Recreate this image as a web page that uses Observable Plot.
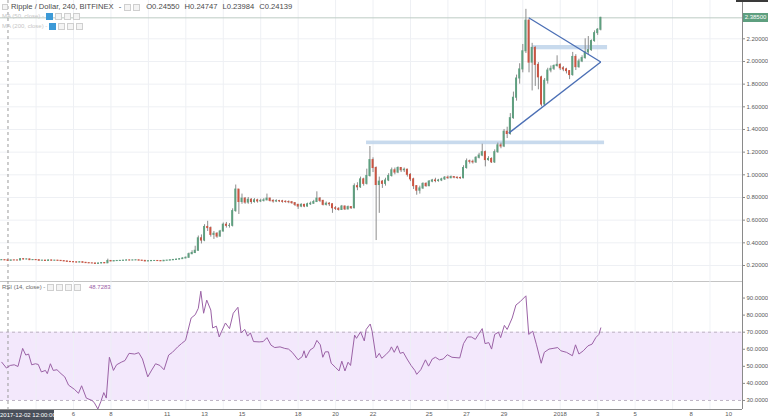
<!DOCTYPE html>
<html><head><meta charset="utf-8">
<script src="https://cdn.jsdelivr.net/npm/d3@7"></script>
<script src="https://cdn.jsdelivr.net/npm/@observablehq/plot@0.6"></script>
<style>
body{margin:0;background:#fff;}
#wrap{position:relative;width:768px;height:420px;overflow:hidden;font-family:"Liberation Sans",Arial,sans-serif;background:#fff;}
#top,#rsi{position:absolute;left:0;}
#top{top:0;} #rsi{top:281px;}
.ov{position:absolute;white-space:nowrap;line-height:1;}
.ic{display:inline-block;width:5px;height:5px;border:1px solid #cfcfcf;background:#f4f4f4;margin-right:2px;vertical-align:middle;}
.ic.b{background:#3d9ad7;border-color:#3d9ad7;}
</style></head>
<body><div id="wrap"><div id="top"></div><div id="rsi"></div></div>
<script>
// ---------- data (4h candles, first bar 2017-12-02 04:00 UTC) ----------
const firstOpen = 0.2460;
const closes = [
0.2470,0.2455,0.2414,0.2450,0.2445,0.2440,0.2560,0.2530,0.2540,0.2470,
0.2480,0.2470,0.2420,0.2430,0.2400,0.2450,0.2420,0.2430,0.2410,0.2390,
0.2360,0.2320,0.2300,0.2280,0.2260,0.2290,0.2240,0.2210,0.2190,0.2180,
0.2140,0.2180,0.2220,0.2190,0.2400,0.2360,0.2390,0.2400,0.2410,0.2430,
0.2450,0.2440,0.2450,0.2460,0.2430,0.2410,0.2360,0.2380,0.2400,0.2400,
0.2390,0.2370,0.2420,0.2430,0.2460,0.2490,0.2520,0.2560,0.2620,0.2680,
0.3000,0.3100,0.3300,0.4400,0.4200,0.5400,0.5300,0.4700,0.4800,0.4550,
0.5000,0.5600,0.5500,0.5500,0.6800,0.8700,0.7600,0.7900,0.7550,0.7800,
0.7600,0.7750,0.7650,0.7700,0.7750,0.7900,0.7700,0.7650,0.7680,0.7660,
0.7620,0.7600,0.7580,0.7500,0.7350,0.7200,0.7350,0.7200,0.7400,0.7450,
0.7600,0.7900,0.7700,0.7350,0.7450,0.7400,0.7050,0.7000,0.6900,0.7200,
0.6950,0.7150,0.7050,0.9000,0.8900,0.9600,0.9200,0.9900,1.1300,1.0600,
0.9100,0.9400,0.9200,0.9500,0.9900,1.0400,1.0200,1.0600,1.0400,1.0450,
1.0000,0.9600,0.9000,0.8600,0.8800,0.9200,0.9000,0.9400,0.9500,0.9450,
0.9500,0.9600,0.9750,0.9700,0.9800,0.9750,0.9720,0.9700,1.0600,1.1200,
1.1150,1.1100,1.1500,1.1700,1.2000,1.1300,1.1400,1.1100,1.2000,1.2600,
1.2500,1.3800,1.3600,1.5000,1.6800,1.8500,1.9300,2.0900,2.3600,1.9900,
2.1200,1.9700,1.8600,1.6200,1.8300,1.9200,1.9350,1.9600,1.9700,1.9400,
1.9300,1.9150,1.8800,2.0400,1.9500,2.0000,2.0300,2.0800,2.1000,2.1800,
2.2500,2.2800,2.3850];
const highs = [
0.2500,0.2490,0.2475,0.2470,0.2480,0.2470,0.2600,0.2590,0.2570,0.2550,
0.2510,0.2500,0.2480,0.2460,0.2450,0.2470,0.2460,0.2450,0.2440,0.2430,
0.2400,0.2370,0.2340,0.2320,0.2300,0.2310,0.2300,0.2260,0.2230,0.2210,
0.2200,0.2200,0.2240,0.2240,0.2560,0.2430,0.2420,0.2430,0.2440,0.2450,
0.2480,0.2470,0.2470,0.2490,0.2470,0.2450,0.2420,0.2400,0.2420,0.2430,
0.2420,0.2410,0.2440,0.2460,0.2490,0.2520,0.2550,0.2600,0.2680,0.2750,
0.3100,0.3300,0.3700,0.4600,0.4700,0.5600,0.5900,0.5400,0.5000,0.4900,
0.5100,0.5750,0.5800,0.5700,0.7000,0.9100,0.8700,0.8300,0.8000,0.8000,
0.7900,0.7900,0.7850,0.7850,0.7900,0.8300,0.7950,0.7800,0.7800,0.7750,
0.7750,0.7700,0.7700,0.7650,0.7550,0.7400,0.7450,0.7400,0.7500,0.7600,
0.7750,0.8500,0.8000,0.7750,0.7600,0.7550,0.7450,0.7200,0.7100,0.7300,
0.7250,0.7250,0.7200,0.9200,0.9300,0.9800,0.9700,1.0500,1.2500,1.1500,
1.0700,0.9800,0.9500,0.9700,1.0100,1.0600,1.0600,1.0700,1.0650,1.0600,
1.0500,1.0100,0.9700,0.9050,0.9000,0.9300,0.9300,0.9500,0.9600,0.9700,
0.9600,0.9700,0.9850,0.9900,0.9900,0.9850,0.9800,0.9800,1.0800,1.1400,
1.1300,1.1300,1.1600,1.1900,1.2700,1.2100,1.1600,1.1500,1.2200,1.2800,
1.2800,1.4000,1.4200,1.5400,1.7300,1.8800,1.9800,2.1500,2.4600,2.3700,
2.1600,2.1300,1.9900,1.8700,1.8500,1.9400,1.9600,1.9700,2.0500,1.9800,
1.9550,1.9400,1.9200,2.0800,2.0600,2.0200,2.0500,2.2000,2.2200,2.1900,
2.2700,2.2900,2.3900];
const lows = [
0.2440,0.2430,0.2398,0.2400,0.2420,0.2410,0.2430,0.2500,0.2500,0.2450,
0.2440,0.2440,0.2400,0.2400,0.2380,0.2390,0.2400,0.2400,0.2390,0.2370,
0.2340,0.2300,0.2280,0.2260,0.2230,0.2250,0.2220,0.2190,0.2170,0.2150,
0.2110,0.2120,0.2160,0.2170,0.2180,0.2330,0.2340,0.2370,0.2380,0.2390,
0.2410,0.2410,0.2420,0.2430,0.2410,0.2390,0.2340,0.2340,0.2360,0.2380,
0.2370,0.2350,0.2360,0.2400,0.2420,0.2450,0.2480,0.2510,0.2550,0.2600,
0.2650,0.2950,0.3050,0.3250,0.3900,0.4100,0.5000,0.4500,0.4300,0.4400,
0.4500,0.4950,0.5300,0.5300,0.5400,0.6700,0.6500,0.7400,0.7400,0.7400,
0.7400,0.7500,0.7500,0.7550,0.7600,0.7700,0.7600,0.7500,0.7550,0.7550,
0.7500,0.7500,0.7450,0.7400,0.7200,0.6950,0.7100,0.7100,0.7150,0.7300,
0.7400,0.7550,0.7550,0.7250,0.7250,0.7200,0.6600,0.6850,0.6800,0.6850,
0.6850,0.6900,0.6950,0.7000,0.8600,0.8800,0.9000,0.9100,0.9800,1.0200,
0.4200,0.6600,0.8800,0.9000,0.9400,0.9800,1.0000,1.0100,1.0200,1.0200,
0.9800,0.9400,0.8700,0.8200,0.8300,0.8700,0.8900,0.8950,0.9300,0.9300,
0.9350,0.9400,0.9500,0.9600,0.9650,0.9650,0.9600,0.9600,0.9650,1.0500,
1.0950,1.0950,1.1000,1.1400,1.1600,1.0700,1.1200,1.1000,1.1000,1.1900,
1.2300,1.2400,1.3200,1.3500,1.4900,1.6500,1.8000,1.9000,2.0700,1.9000,
1.7400,1.7800,1.7500,1.6000,1.6100,1.8000,1.9000,1.9200,1.9500,1.9200,
1.9100,1.8900,1.8400,1.8700,1.9200,1.9400,1.9900,2.0200,2.0600,2.0900,
2.1700,2.2300,2.2700];

// RSI(14, close): position in bars from the first bar, value
const rsiK = [0,1.5,2.7,4.0,5.2,6.7,7.7,8.6,9.6,10.8,11.7,12.7,14.0,14.6,15.6,16.5,17.7,19.0,20.2,21.4,
23.3,24.6,25.6,27.1,28.9,29.6,30.8,31.8,32.7,33.5,34.5,35.8,36.8,38.3,39.5,40.8,42.6,43.9,45.1,46.8,
47.9,49.3,50.7,52.0,53.5,54.7,56.4,57.6,58.9,60.7,62.0,63.0,63.8,64.7,65.7,67.0,67.6,68.8,69.7,70.5,
71.7,73.0,74.2,75.7,76.7,77.9,78.8,79.7,80.7,82.5,83.8,85.0,86.3,87.5,89.2,90.7,91.9,93.1,95.0,96.3,
96.9,97.5,98.8,100.0,101.0,102.1,102.9,103.7,104.7,105.6,106.9,108.1,109.0,110.0,111.0,111.8,113.1,113.7,115.0,116.2,
116.8,118.1,118.7,120.0,121.0,121.8,123.1,124.3,124.9,125.8,126.8,127.7,128.7,129.9,131.2,132.4,133.0,134.3,135.8,136.8,
138.0,139.0,140.3,141.5,142.8,144.3,146.8,148.0,149.3,150.5,151.8,152.8,154.0,154.9,156.1,157.0,158.0,159.2,159.9,161.1,
162.0,163.6,164.8,166.1,168.0,168.9,170.2,171.4,172.9,173.9,175.4,176.7,178.2,179.2,181.0,182.9,183.9,185.0,186.4,187.9,
189.2,190.4,191.4,192.0];
const rsiV = [52.4,49.0,50.5,50.9,49.9,60.5,56.6,57.2,50.9,51.5,51.1,46.7,47.6,45.7,51.5,47.6,48.0,45.7,43.8,39.0,
36.5,34.2,38.6,31.4,30.0,28.9,25.0,29.5,34.6,31.4,55.3,47.6,50.9,52.4,53.4,57.6,57.2,58.0,54.3,43.8,
47.3,51.5,50.5,48.0,56.6,58.2,61.4,63.3,65.2,78.3,80.2,84.0,94.0,81.1,88.8,83.0,72.5,73.5,67.2,70.6,
75.4,72.1,81.1,84.6,69.6,71.6,67.7,69.6,64.5,64.3,64.5,66.8,62.4,61.0,61.4,60.5,60.1,58.2,53.8,55.7,
59.1,54.9,59.5,61.0,65.2,62.6,55.3,58.5,58.5,51.8,49.5,47.3,53.0,47.3,52.4,50.5,68.3,66.4,70.2,64.9,
71.6,74.8,70.6,54.9,57.6,54.7,56.8,59.1,61.4,58.2,62.0,57.6,58.2,54.3,50.5,47.6,45.3,48.0,53.8,50.1,
54.3,55.3,53.8,54.3,56.8,55.3,54.9,63.3,67.2,67.2,65.8,68.7,72.1,63.3,63.9,60.1,68.7,70.0,66.8,74.0,
71.6,78.3,85.9,87.8,91.3,68.7,70.6,62.6,51.8,58.2,60.1,60.5,61.0,59.1,58.2,56.2,62.6,57.2,59.1,62.0,
63.0,66.8,68.7,72.5];

// drawings
const trendStart = ["2017-12-30T07:36Z","2017-12-29T06:00Z"];
const trendStartPrice = [2.386, 1.368];
const trendEnd = ["2018-01-03T04:00Z","2018-01-03T04:00Z"];
const trendEndPrice = [1.996, 1.996];
const zoneStart = ["2017-12-21T15:40Z","2017-12-30T12:30Z"];
const zoneEnd = ["2018-01-03T08:50Z","2018-01-03T12:40Z"];
const zoneLow = [1.266, 2.103];
const zoneHigh = [1.298, 2.141];

// axes / labels
const priceTicks = [0.2,0.4,0.6,0.8,1.0,1.2,1.4,1.6,1.8,2.0,2.2];
const rsiTicks = [30,40,50,60,70,80,90];
const rsiBand = [30,70];
const dayTickDates = ["2017-12-06","2017-12-08","2017-12-11","2017-12-13","2017-12-15","2017-12-18","2017-12-20","2017-12-22","2017-12-25","2017-12-27","2017-12-29","2018-01-01","2018-01-03","2018-01-05","2018-01-08","2018-01-10"];
const dayTickLabels = ["6","8","11","13","15","18","20","22","25","27","29","2018","3","5","8","10"];
const lastPrice = 2.385;
const lastPriceLabel = "2.38500";
const crossTime = "2017-12-02T12:00Z";
const crossLabel = "2017-12-02 12:00:00";
const title = "Ripple / Dollar, 240, BITFINEX";
const ohlcKeys = ["O","H","L","C"];
const ohlcVals = ["0.24550","0.24747","0.23984","0.24139"];
const maLegends = ["MA (50, close)","MA (200, close)"];
const rsiLegend = "RSI (14, close)";
const rsiLegendValue = "48.7283";

// ---------- build ----------
const H4 = 4*3600e3, HR = 3600e3;
const t0 = Date.UTC(2017,11,2,4);
const candles = closes.map((c,i)=>({t:new Date(t0+i*H4), o: i?closes[i-1]:firstOpen, h:highs[i], l:lows[i], c}));
const rsi = rsiK.map((k,i)=>({t:new Date(t0+k*H4), v:rsiV[i]}));
const xDomain = [new Date("2017-12-02T02:24Z"), new Date("2018-01-10T17:41Z")];
const gridDates = d3.utcDay.range(new Date("2017-12-04"), new Date("2018-01-11"), 2);
const trends = trendStart.map((s,i)=>({x1:new Date(s),y1:trendStartPrice[i],x2:new Date(trendEnd[i]),y2:trendEndPrice[i]}));
const zones = zoneStart.map((s,i)=>({x1:new Date(s),x2:new Date(zoneEnd[i]),y1:zoneLow[i],y2:zoneHigh[i]}));
const xticks = dayTickDates.map((d,i)=>({t:new Date(d+"T00:00Z"), label:dayTickLabels[i]}));

const UP="#5e9f7f", DN="#cc5442", WICK="#8c8c8c", GRID="#eef0f4", AX="#8a8a8a";
const style = {fontFamily:"Liberation Sans, Arial, sans-serif", fontSize:"6px", color:"#5a5a5a", background:"transparent", overflow:"visible"};

const pricePlot = Plot.plot({
  width:768, height:281, marginLeft:0, marginRight:26, marginTop:0, marginBottom:0, style,
  x:{type:"utc", domain:xDomain, axis:null},
  y:{domain:[0.0588,2.538], axis:null},
  marks:[
    Plot.ruleX(gridDates,{stroke:GRID}),
    Plot.ruleY(priceTicks,{stroke:GRID}),
    Plot.ruleY([lastPrice],{stroke:"#bccbc3"}),
    Plot.rect(zones,{x1:"x1",x2:"x2",y1:"y1",y2:"y2",fill:"#bed3ea",fillOpacity:0.85}),
    Plot.ruleX([new Date(crossTime)],{stroke:"#9a9a9a",strokeDasharray:"3,3"}),
    Plot.ruleX(candles,{x:"t",y1:"l",y2:"h",stroke:WICK,strokeWidth:1}),
    Plot.rect(candles,{x1:d=>new Date(+d.t-1.25*HR),x2:d=>new Date(+d.t+1.25*HR),y1:"o",y2:"c",
      fill:d=>d.c>=d.o?UP:DN, insetTop:-0.5, insetBottom:-0.5}),
    Plot.link(trends,{x1:"x1",y1:"y1",x2:"x2",y2:"y2",stroke:"#4b6fb5",strokeWidth:1.3}),
    Plot.ruleX([xDomain[1]],{stroke:AX}),
    Plot.ruleY([0.0588],{stroke:"#c4c4c4"}),
    Plot.axisY(priceTicks,{anchor:"right",label:null,tickFormat:d3.format(".5f"),tickSize:2,tickPadding:2,stroke:AX})
  ]
});
document.getElementById("top").appendChild(pricePlot);

const rsiPlot = Plot.plot({
  width:768, height:139, marginLeft:0, marginRight:26, marginTop:0, marginBottom:11, style,
  x:{type:"utc", domain:xDomain, axis:null},
  y:{domain:[24.7,99.7], axis:null},
  marks:[
    Plot.rect([rsiBand],{x1:()=>xDomain[0],x2:()=>xDomain[1],y1:d=>d[0],y2:d=>d[1],fill:"#f3e8fc"}),
    Plot.ruleX(gridDates,{stroke:GRID,strokeOpacity:0.8}),
    Plot.ruleY(rsiBand,{stroke:"#bdb3c3",strokeDasharray:"3,3"}),
    Plot.ruleX([new Date(crossTime)],{stroke:"#9a9a9a",strokeDasharray:"3,3"}),
    Plot.line(rsi,{x:"t",y:"v",stroke:"#9b62a6",strokeWidth:1}),
    Plot.ruleX([xDomain[1]],{stroke:AX}),
    Plot.ruleY([24.7],{stroke:AX}),
    Plot.axisY(rsiTicks,{anchor:"right",label:null,tickFormat:d3.format(".4f"),tickSize:2,tickPadding:2,stroke:AX}),
    Plot.text(xticks,{x:"t",text:"label",frameAnchor:"bottom",dy:6,fill:"#5a5a5a",
      fontWeight:d=>d.label==="2018"?"bold":"normal"})
  ]
});
document.getElementById("rsi").appendChild(rsiPlot);

// ---------- overlays (legend text, price tag, date tag) ----------
const wrap = document.getElementById("wrap");
function ov(html, css){const d=document.createElement("div");d.className="ov";d.style.cssText=css;d.innerHTML=html;wrap.appendChild(d);return d;}
const ys = pricePlot.scale("y");
ov(`<span class="ic" style="width:4px;height:4px;margin-right:3px"></span>${title} <span style="margin:0 3px">-</span><span class="ic"></span><span class="ic" style="margin-right:6px"></span>`+
   ohlcKeys.map((k,i)=>`<span style="margin-right:5px">${k}${ohlcVals[i]}</span>`).join(""),
   "left:2px;top:3px;font-size:7.6px;color:#4a4a4a;");
maLegends.forEach((m,i)=>ov(`${m} - <span class="ic b"></span><span class="ic"></span><span class="ic"></span><span class="ic"></span>`,
   `left:2px;top:${13+i*10}px;font-size:6px;color:#c6c6c6;`));
ov(`${rsiLegend} - <span class="ic"></span><span class="ic"></span><span class="ic"></span><span class="ic" style="margin-right:8px"></span><span style="color:#9b62a6">${rsiLegendValue}</span>`,
   "left:2px;top:284px;font-size:6px;color:#6a6a6a;");
const yTag = ys.apply(lastPrice);
ov(lastPriceLabel, `left:743px;top:${yTag-4.5}px;width:25px;height:9px;line-height:9px;background:#5e9f7f;color:#fff;font-size:6px;text-align:center;`);
ov(crossLabel, "left:0;top:410px;width:54px;height:10px;line-height:10px;background:#4a505b;color:#fff;font-size:6px;text-align:center;");
ov("", "left:736px;top:0;width:32px;height:2px;background:#3a3a3a;");
</script></body></html>
